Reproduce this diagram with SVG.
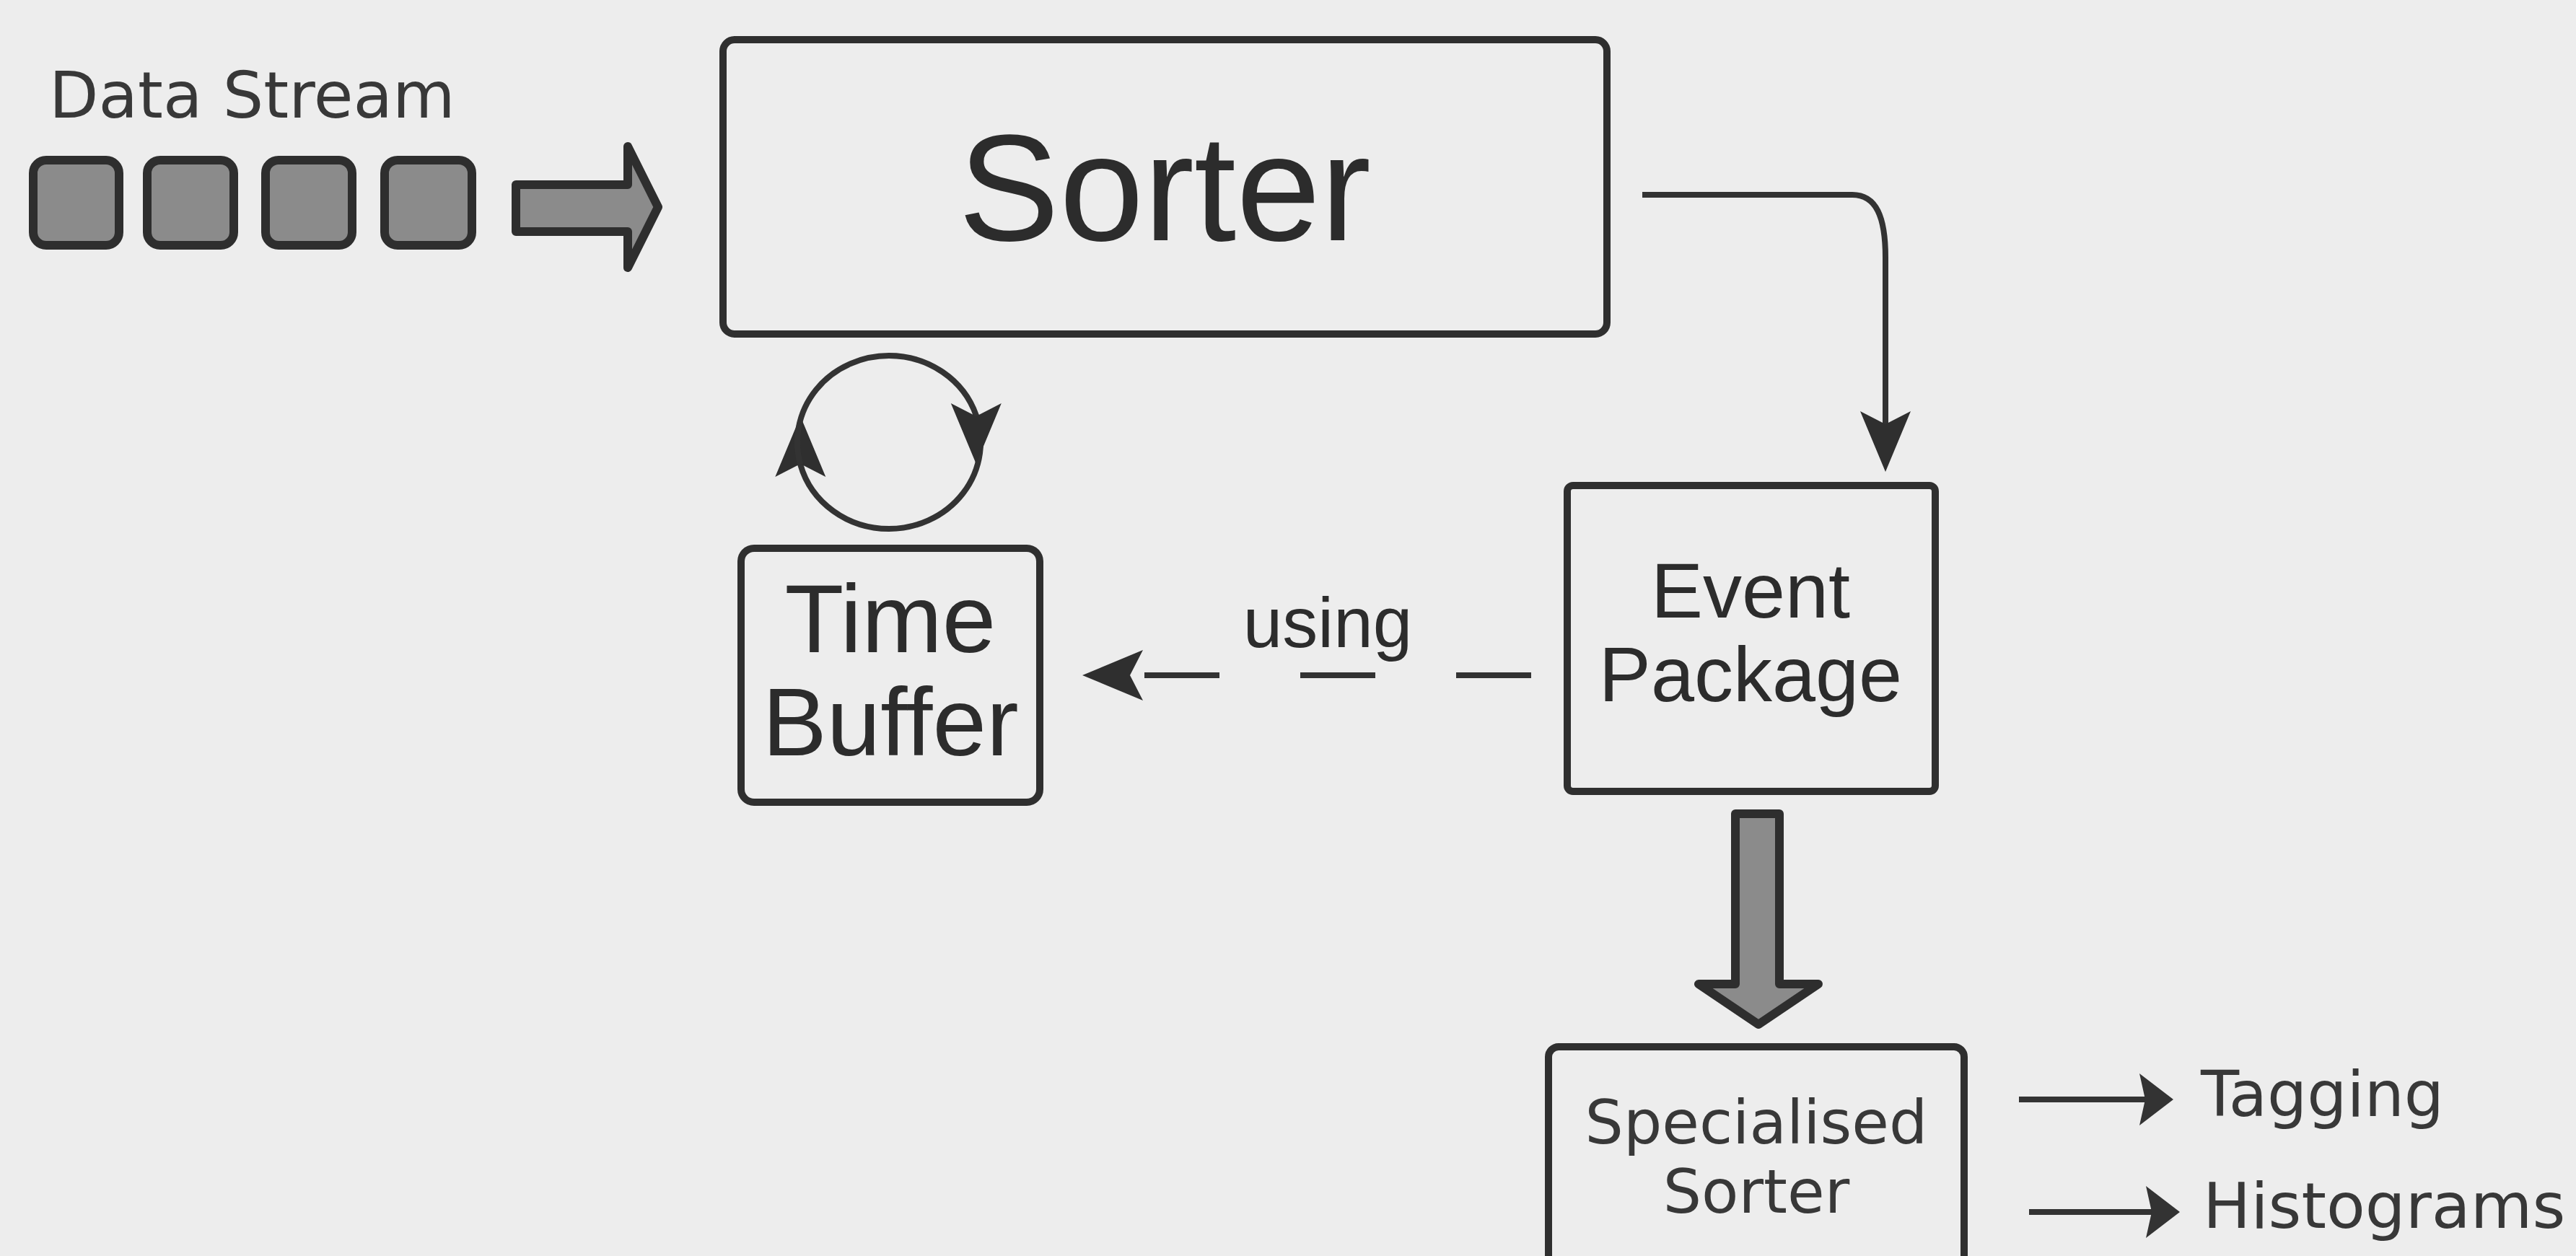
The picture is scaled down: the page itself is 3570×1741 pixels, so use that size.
<svg xmlns="http://www.w3.org/2000/svg" width="3570" height="1741" viewBox="0 0 3570 1741">
  <style>
    .box { fill: none; stroke: #2f2f2f; stroke-width: 10; }
    .block { fill: #8b8b8b; stroke: #2e2e2e; stroke-width: 12; stroke-linejoin: round; }
    .line { fill: none; stroke: #333333; stroke-width: 8; }
    .sans { font-family: "Liberation Sans", Arial, sans-serif; fill: #2c2c2c; }
    .verd { font-family: "DejaVu Sans", Verdana, sans-serif; fill: #383838; }
    .mid { text-anchor: middle; }
  </style>
  <defs>
    <!-- notched arrowhead, path ends at the notch -->
    <marker id="ah" markerUnits="userSpaceOnUse" markerWidth="90" markerHeight="74" refX="18" refY="35" orient="auto" overflow="visible">
      <path d="M0,0 L84,35 L0,70 L18,35 Z" fill="#2f2f2f"/>
    </marker>
    <!-- small arrowhead for the output arrows -->
    <marker id="ahs" markerUnits="userSpaceOnUse" markerWidth="50" markerHeight="74" refX="8" refY="36" orient="auto" overflow="visible">
      <path d="M0,0 L47,36 L0,72 L8,36 Z" fill="#333333"/>
    </marker>
  </defs>

  <rect x="0" y="0" width="3570" height="1741" fill="#ededed"/>

  <!-- incoming data stream -->
  <g id="node-data-stream">
    <text class="verd" x="68" y="163" font-size="89">Data Stream</text>
    <rect class="block" x="46" y="222" width="119" height="118" rx="18"/>
    <rect class="block" x="204" y="222" width="120" height="118" rx="18"/>
    <rect class="block" x="368" y="222" width="120" height="118" rx="18"/>
    <rect class="block" x="533" y="222" width="121" height="118" rx="18"/>
  </g>

  <g id="node-sorter">
    <rect class="box" x="1002" y="55" width="1225" height="408" rx="16"/>
    <text class="sans mid" x="1614" y="333" font-size="210">Sorter</text>
  </g>

  <g id="node-time-buffer">
    <rect class="box" x="1027" y="760" width="414" height="352" rx="18"/>
    <text class="sans mid" font-size="134"><tspan x="1234" y="904">Time</tspan><tspan x="1234" y="1047">Buffer</tspan></text>
  </g>

  <g id="node-event-package">
    <rect class="box" x="2172" y="673" width="510" height="424" rx="8"/>
    <text class="sans mid" font-size="108"><tspan x="2426" y="856">Event</tspan><tspan x="2426" y="972">Package</tspan></text>
  </g>

  <g id="node-specialised-sorter">
    <rect class="box" x="2146" y="1451" width="576" height="340" rx="14" stroke-width="8"/>
    <text class="verd mid" font-size="84"><tspan x="2434" y="1585">Specialised</tspan><tspan x="2434" y="1681">Sorter</tspan></text>
  </g>

  <g id="node-tagging">
    <text class="verd" x="3050" y="1547" font-size="87">Tagging</text>
  </g>

  <g id="node-histograms">
    <text class="verd" x="3053" y="1702" font-size="88">Histograms</text>
  </g>

  <g id="connectors">
    <!-- stream into sorter -->
    <polygon class="block" points="715,256 870,256 870,203 912,287 870,371 870,321 715,321"/>
    <!-- sorter to event package -->
    <path class="line" d="M2276,270 H2567 C2600,270 2613,300 2613,357 V588" marker-end="url(#ah)"/>
    <!-- time buffer self loop -->
    <path class="line" d="M1352.8,575.9 A127,120 0 0 1 1232,733 A127,120 0 0 1 1109.3,644.1 L1109.3,643" marker-end="url(#ah)"/>
    <path class="line" d="M1109.3,644.1 A127,120 0 0 1 1232,493 A127,120 0 0 1 1352.8,575.9 L1352.8,577" marker-end="url(#ah)"/>
    <!-- event package uses time buffer -->
    <path class="line" d="M2122,936 H1566" stroke-width="9" stroke-dasharray="104 112" marker-end="url(#ah)"/>
    <text class="sans mid" x="1840" y="897" font-size="98">using</text>
    <!-- event package to specialised sorter -->
    <polygon class="block" points="2405,1128 2466,1128 2466,1364 2520,1364 2437,1420 2354,1364 2405,1364"/>
    <!-- outputs -->
    <path class="line" d="M2798,1524 H2973" stroke-width="12" marker-end="url(#ahs)"/>
    <path class="line" d="M2812,1680 H2982" stroke-width="12" marker-end="url(#ahs)"/>
  </g>
</svg>
